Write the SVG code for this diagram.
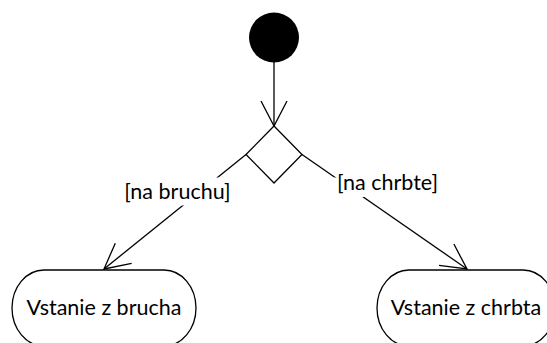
<svg xmlns="http://www.w3.org/2000/svg" width="547" height="343" viewBox="0 0 547 343">
<style>
.ln{stroke:#000;stroke-width:1.3;fill:none}
.nd{stroke:#000;stroke-width:1.3;fill:#fff}
.tx{font-family:Lato,"Liberation Sans",Arial,sans-serif;font-size:21.5px;fill:#000}
</style>
<defs>
<marker id="arr" markerUnits="userSpaceOnUse" markerWidth="40" markerHeight="40" refX="0" refY="0" viewBox="-30 -20 40 40" orient="auto" overflow="visible">
<path d="M -25,-13 L 0,0 L -25,13" fill="none" stroke="#000" stroke-width="1.3"/>
</marker>
</defs>
<g id="connectors">
<line class="ln" x1="274" y1="62" x2="274" y2="126" marker-end="url(#arr)"/>
<line class="ln" x1="246" y1="154.5" x2="104" y2="269" marker-end="url(#arr)"/>
<line class="ln" x1="302" y1="154.5" x2="467" y2="269" marker-end="url(#arr)"/>
<g id="label-bruchu">
<rect x="121" y="177.5" width="112" height="28" fill="#fff"/>
<text class="tx" x="177.5" y="199" text-anchor="middle">[na bruchu]</text>
</g>
<g id="label-chrbte">
<rect x="322" y="177.5" width="120" height="19.5" fill="#fff"/>
<text class="tx" x="387.5" y="190" text-anchor="middle">[na chrbte]</text>
</g>
</g>
<g id="start">
<circle cx="274" cy="37.5" r="25" fill="#000"/>
</g>
<g id="decision">
<polygon class="nd" points="274,126 302,154.5 274,183 246,154.5"/>
</g>
<g id="vstanie-brucha">
<rect class="nd" x="12" y="270" width="184" height="76" rx="32" ry="38"/>
<text class="tx" x="104" y="315" text-anchor="middle">Vstanie z brucha</text>
</g>
<g id="vstanie-chrbta">
<rect class="nd" x="377" y="270" width="178" height="76" rx="32" ry="38"/>
<text class="tx" x="466" y="315" text-anchor="middle">Vstanie z chrbta</text>
</g>
</svg>
